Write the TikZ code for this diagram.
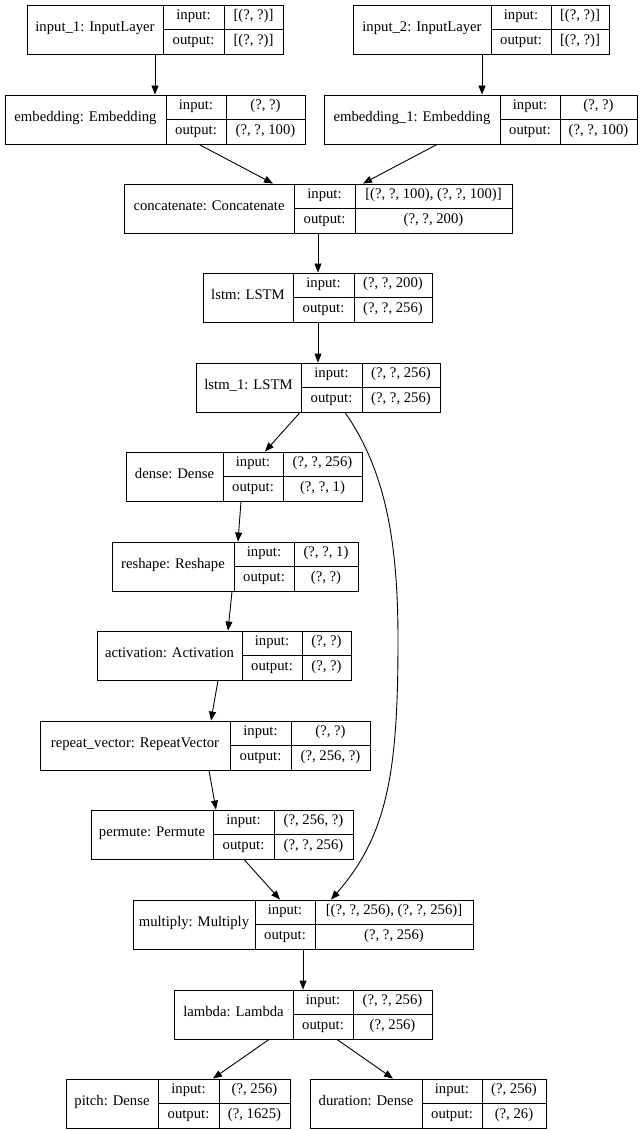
\documentclass[tikz,border=0pt]{standalone}
\usepackage{fontspec}
\setmainfont{Liberation Serif}
\usetikzlibrary{arrows.meta}
\tikzset{
  box/.style={draw=black, line width=0.9pt, inner sep=0pt, fill=white},
  cell/.style={draw=black, line width=0.9pt},
  txt/.style={inner sep=0pt, font=\fontsize{14.7}{16}\selectfont, text height=0.68em, text depth=0.2em},
  arr/.style={draw=black, line width=0.9pt, -{Triangle[length=9pt,width=7pt]}}
}
\newcommand\klayer[9]{%
  \node[box, minimum width={(#5-#2)*1pt}, minimum height=49pt] (#1) at ({(#2+#5)/2},{#6+24.5}) {};
  \draw[cell] (#3,#6) -- (#3,#6+49);
  \draw[cell] (#4,#6) -- (#4,#6+49);
  \draw[cell] (#3,#6+24.5) -- (#5,#6+24.5);
  \node[txt] (#1-l) at ({(#2+#3)/2},{#6+24.5}) {#7};
  \node[txt] (#1-ik) at ({(#3+#4)/2},{#6+12.25}) {input:};
  \node[txt] (#1-ok) at ({(#3+#4)/2},{#6+36.75}) {output:};
  \node[txt] (#1-iv) at ({(#4+#5)/2},{#6+12.25}) {#8};
  \node[txt] (#1-ov) at ({(#4+#5)/2},{#6+36.75}) {#9};
}
\begin{document}
\begin{tikzpicture}[x=1pt,y=-1pt]
\useasboundingbox[fill=white] (0,0) rectangle (640,1131);
\klayer{in1}{27}{163}{224}{283}{5}{input\_1: InputLayer}{[(?, ?)]}{[(?, ?)]}
\klayer{in2}{353}{491}{551}{609}{5}{input\_2: InputLayer}{[(?, ?)]}{[(?, ?)]}
\klayer{emb}{5}{166}{226}{305}{95}{embedding: Embedding}{(?, ?)}{(?, ?, 100)}
\klayer{emb1}{324}{500}{560}{637}{95}{embedding\_1: Embedding}{(?, ?)}{(?, ?, 100)}
\klayer{cat}{124}{294}{355}{512}{184}{concatenate: Concatenate}{[(?, ?, 100), (?, ?, 100)]}{(?, ?, 200)}
\klayer{l0}{203}{293}{354}{432}{273}{lstm: LSTM}{(?, ?, 200)}{(?, ?, 256)}
\klayer{l1}{196}{301}{362}{440}{363}{lstm\_1: LSTM}{(?, ?, 256)}{(?, ?, 256)}
\klayer{den}{126}{223}{283}{362}{452}{dense: Dense}{(?, ?, 256)}{(?, ?, 1)}
\klayer{res}{112}{234}{294}{358}{542}{reshape: Reshape}{(?, ?, 1)}{(?, ?)}
\klayer{act}{97}{242}{302}{351}{631}{activation: Activation}{(?, ?)}{(?, ?)}
\klayer{rep}{40}{230}{291}{370}{721}{repeat\_vector: RepeatVector}{(?, ?)}{(?, 256, ?)}
\klayer{per}{91}{213}{274}{353}{810}{permute: Permute}{(?, 256, ?)}{(?, ?, 256)}
\klayer{mul}{133}{255}{315}{473}{900}{multiply: Multiply}{[(?, ?, 256), (?, ?, 256)]}{(?, ?, 256)}
\klayer{lam}{174}{293}{353}{432}{990}{lambda: Lambda}{(?, ?, 256)}{(?, 256)}
\klayer{pit}{66}{158}{219}{290}{1079}{pitch: Dense}{(?, 256)}{(?, 1625)}
\klayer{dur}{310}{422}{482}{546}{1079}{duration: Dense}{(?, 256)}{(?, 26)}
% connectors
\draw[arr] (155,0 |- in1.south) -- (155,0 |- emb.north);
\draw[arr] (482,0 |- in2.south) -- (482,0 |- emb1.north);
\draw[arr] (199,0 |- emb.south) -- (273,0 |- cat.north);
\draw[arr] (437,0 |- emb1.south) -- (363,0 |- cat.north);
\draw[arr] (318,0 |- cat.south) -- (318,0 |- l0.north);
\draw[arr] (318,0 |- l0.south) -- (318,0 |- l1.north);
\draw[arr] (300,0 |- l1.south) -- (265,0 |- den.north);
\draw[arr] (345,0 |- l1.south) .. controls (385,470) and (398,540) .. (398,640)
   .. controls (398,770) and (388,835) .. (331,0 |- mul.north);
\draw[arr] (241,0 |- den.south) -- (238,0 |- res.north);
\draw[arr] (232,0 |- res.south) -- (228,0 |- act.north);
\draw[arr] (218,0 |- act.south) -- (211,0 |- rep.north);
\draw[arr] (209,0 |- rep.south) -- (216,0 |- per.north);
\draw[arr] (244,0 |- per.south) -- (280,0 |- mul.north);
\draw[arr] (303,0 |- mul.south) -- (303,0 |- lam.north);
\draw[arr] (269,0 |- lam.south) -- (213,0 |- pit.north);
\draw[arr] (337,0 |- lam.south) -- (393,0 |- dur.north);
\end{tikzpicture}
\end{document}
